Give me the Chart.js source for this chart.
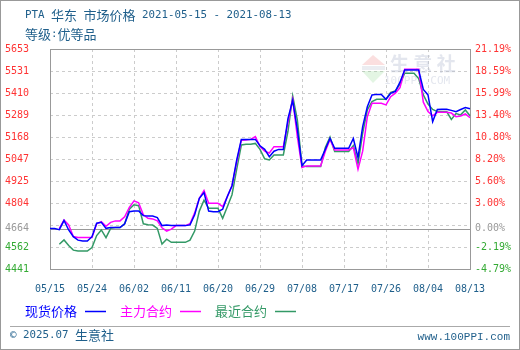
<!DOCTYPE html>
<html>
<head>
<meta charset="utf-8">
<script src="https://cdn.jsdelivr.net/npm/chart.js@4"></script>
<style>
html, body { margin: 0; padding: 0; background: #fff; }
canvas { display: block; }
</style>
</head>
<body>
<canvas id="chart" width="520" height="350"></canvas>
<script>
// ---- data ----
const START_DATE = '2021-05-15';
const DAY_COUNT = 91;
const BASE_PRICE = 4664;
const seriesNames = ['现货价格', '主力合约', '最近合约'];
const seriesColors = ['#0000ff', '#ff00ff', '#339966'];

const spotPrice = [
  4664, 4664, 4658, 4708, 4656, 4619, 4600, 4595, 4595, 4619,
  4693, 4698, 4665, 4669, 4669, 4669, 4690, 4757, 4761, 4761,
  4735, 4733, 4733, 4724, 4680, 4683, 4680, 4680, 4680, 4680,
  4684, 4740, 4830, 4862, 4760, 4757, 4757, 4770, 4840, 4900,
  5040, 5155, 5155, 5155, 5155, 5120, 5100, 5060, 5090, 5100,
  5100, 5270, 5370, 5210, 5010, 5042, 5042, 5042, 5042, 5100,
  5161, 5106, 5106, 5106, 5106, 5160, 5055, 5225, 5335, 5400,
  5403, 5403, 5376, 5409, 5420, 5470, 5537, 5537, 5537, 5537,
  5430, 5400, 5253, 5320, 5321, 5321, 5315, 5308, 5320, 5330,
  5324
];
const mainContract = [
  null, null, 4665, 4711, 4684, 4620, 4614, 4614, 4614, 4614,
  4690, 4702, 4676, 4698, 4706, 4706, 4729, 4780, 4816, 4805,
  4740, 4720, 4717, 4706, 4668, 4650, 4661, 4680, 4680, 4680,
  4690, 4750, 4830, 4873, 4803, 4803, 4803, 4785, 4840, 4900,
  5030, 5150, 5152, 5155, 5170, 5115, 5090, 5080, 5115, 5115,
  5115, 5250, 5375, 5170, 5000, 5009, 5009, 5009, 5009, 5090,
  5155, 5097, 5097, 5097, 5097, 5110, 4990, 5090, 5280, 5354,
  5354, 5354, 5345, 5390, 5410, 5440, 5541, 5541, 5541, 5541,
  5360, 5308, 5285, 5304, 5304, 5304, 5300, 5280, 5284, 5295,
  5275
];
const nearContract = [
  null, null, 4577, 4601, 4570, 4545, 4540, 4540, 4540, 4559,
  4625, 4656, 4614, 4665, 4669, 4669, 4690, 4770, 4795, 4790,
  4690, 4685, 4683, 4665, 4578, 4605, 4588, 4588, 4588, 4588,
  4600, 4650, 4760, 4820, 4775, 4775, 4775, 4720, 4784, 4850,
  4990, 5124, 5128, 5128, 5133, 5100, 5048, 5042, 5069, 5069,
  5069, 5200, 5395, 5262, 5010, 5005, 5005, 5005, 5005, 5110,
  5168, 5088, 5088, 5088, 5088, 5120, 5020, 5190, 5317, 5363,
  5376, 5376, 5376, 5414, 5422, 5460, 5519, 5519, 5519, 5490,
  5400, 5350, 5320, 5308, 5308, 5308, 5265, 5297, 5290, 5317,
  5285
];

const xTickLabels = ['05/15', '05/24', '06/02', '06/11', '06/20', '06/29', '07/08', '07/17', '07/26', '08/04', '08/13'];
const leftTickValues = [4441, 4562, 4664, 4804, 4925, 5047, 5168, 5289, 5410, 5531, 5653];
const rightTickLabels = ['-4.79%', '-2.19%', '0.00%', '3.00%', '5.60%', '8.20%', '10.80%', '13.40%', '15.99%', '18.59%', '21.19%'];
const extraGridValue = 4683; // dashed line just above the base line, no label

const titleText = 'PTA 华东 市场价格 2021-05-15 - 2021-08-13';
const subtitleText = '等级:优等品';
const footerLeft = '© 2025.07 生意社';
const footerRight = 'www.100PPI.com';

// ---- helpers ----
const TEXT_BLUE = '#1f5f8b';
const RED = '#ff3333', GRAY = '#999999', GREEN = '#33aa33';
const MONO = "'DejaVu Sans Mono', monospace";
const CJK = "'Noto Sans CJK SC', sans-serif";

function dayLabels() {
    var out = [];
    var d0 = new Date(START_DATE + 'T00:00:00Z');
    for (var i = 0; i < DAY_COUNT; i++) {
        var d = new Date(d0.getTime() + i * 86400000);
        var mm = String(d.getUTCMonth() + 1).padStart(2, '0');
        var dd = String(d.getUTCDate()).padStart(2, '0');
        out.push(mm + '/' + dd);
    }
    return out;
}
function tickColor(v) {
    if (v > BASE_PRICE) return RED;
    if (v < BASE_PRICE) return GREEN;
    return GRAY;
}
// latin and CJK glyphs get different fonts, like the bitmap font in the original
function drawMixed(ctx, text, x, y, latinFont, cjkFont, color) {
    ctx.fillStyle = color;
    ctx.textBaseline = 'middle';
    ctx.textAlign = 'left';
    for (const ch of text) {
        ctx.font = ch.charCodeAt(0) > 0x2e80 ? cjkFont : latinFont;
        ctx.fillText(ch, x, y);
        x += ctx.measureText(ch).width;
    }
    return x;
}

const yTicks = leftTickValues.concat([extraGridValue]).sort((a, b) => a - b);

const decorations = {
    id: 'decorations',
    beforeDatasetsDraw(chart) {
        const ctx = chart.ctx, a = chart.chartArea;
        const y = chart.scales.y;
        ctx.save();
        // watermark
        ctx.globalAlpha = 0.25;
        ctx.fillStyle = '#f08080';
        ctx.beginPath(); ctx.moveTo(373, 55); ctx.lineTo(362, 65); ctx.lineTo(385, 65); ctx.closePath(); ctx.fill();
        ctx.fillStyle = '#90d890';
        ctx.beginPath(); ctx.moveTo(362, 71); ctx.lineTo(385, 71); ctx.lineTo(373, 83); ctx.closePath(); ctx.fill();
        ctx.fillStyle = '#b0b8c8';
        ctx.fillRect(362, 66, 23, 4);
        ctx.globalAlpha = 0.4;
        ctx.fillStyle = '#b8c0d4';
        ctx.font = "bold 19px " + CJK;
        ctx.textBaseline = 'middle';
        ctx.fillText('生 意 社', 390, 64);
        ctx.font = "11px " + MONO;
        ctx.fillText('100PPI.COM', 384, 81);
        ctx.globalAlpha = 1;
        // base line
        const by = Math.round(y.getPixelForValue(BASE_PRICE)) + 0.5;
        ctx.strokeStyle = '#999';
        ctx.lineWidth = 1;
        ctx.beginPath(); ctx.moveTo(a.left, by); ctx.lineTo(a.right, by); ctx.stroke();
        // frame
        ctx.strokeStyle = '#999';
        ctx.strokeRect(Math.round(a.left) + 0.5, Math.round(a.top) + 0.5, Math.round(a.right - a.left), Math.round(a.bottom - a.top));
        ctx.restore();
    },
    afterDraw(chart) {
        const ctx = chart.ctx;
        ctx.save();
        drawMixed(ctx, titleText, 25, 15, "10.8px " + MONO, "13px " + CJK, TEXT_BLUE);
        drawMixed(ctx, subtitleText, 25, 34, "10.8px " + MONO, "13px " + CJK, TEXT_BLUE);
        // legend: text first, then a short line sample
        chart.data.datasets.forEach((ds, i) => {
            var x0 = 25 + i * 95;
            var x = drawMixed(ctx, ds.label, x0, 311, "10.8px " + MONO, "13px " + CJK, ds.borderColor);
            ctx.strokeStyle = ds.borderColor;
            ctx.lineWidth = 1.5;
            ctx.beginPath(); ctx.moveTo(x + 8, 311.5); ctx.lineTo(x + 29, 311.5); ctx.stroke();
        });
        // footer
        ctx.strokeStyle = '#aaa';
        ctx.lineWidth = 1;
        ctx.beginPath(); ctx.moveTo(10, 326.5); ctx.lineTo(510, 326.5); ctx.stroke();
        drawMixed(ctx, footerLeft, 10, 335, "10.8px " + MONO, "13px " + CJK, TEXT_BLUE);
        ctx.font = "11px 'Liberation Mono', monospace";
        ctx.fillStyle = TEXT_BLUE;
        ctx.textAlign = 'right';
        ctx.textBaseline = 'middle';
        ctx.fillText(footerRight, 510, 337);
        // outer border
        ctx.strokeStyle = '#999';
        ctx.strokeRect(0.5, 0.5, 519, 349);
        ctx.restore();
    }
};

const labels = dayLabels();
const seriesData = [spotPrice, mainContract, nearContract];

new Chart(document.getElementById('chart'), {
    type: 'line',
    data: {
        labels: labels,
        datasets: seriesData.map((d, i) => ({
            label: seriesNames[i],
            data: d,
            borderColor: seriesColors[i],
            backgroundColor: seriesColors[i],
            borderWidth: 1.5,
            pointRadius: 0,
            tension: 0,
            fill: false
        }))
    },
    options: {
        responsive: false,
        animation: false,
        devicePixelRatio: 1,
        layout: { padding: { top: 49, left: 5, right: 0, bottom: 0 } },
        plugins: { legend: { display: false }, tooltip: { enabled: false } },
        scales: {
            x: {
                type: 'category',
                offset: false,
                afterFit: s => { s.height = 81; },
                grid: { color: '#cccccc', drawTicks: false },
                border: { display: false, dash: [3, 3] },
                ticks: {
                    autoSkip: false,
                    maxRotation: 0,
                    padding: 14,
                    color: TEXT_BLUE,
                    font: { family: MONO, size: 10 },
                    callback: function (v, i) {
                        var l = labels[i];
                        return xTickLabels.indexOf(l) >= 0 ? l : null;
                    }
                }
            },
            y: {
                position: 'left',
                min: leftTickValues[0],
                max: leftTickValues[leftTickValues.length - 1],
                afterFit: s => { s.width = 45; },
                afterBuildTicks: s => { s.ticks = yTicks.map(v => ({ value: v })); },
                grid: {
                    drawTicks: false,
                    color: c => (c.tick && c.tick.value === BASE_PRICE) ? 'rgba(0,0,0,0)' : '#cccccc'
                },
                border: { display: false, dash: [3, 3] },
                ticks: {
                    crossAlign: 'far',
                    padding: 5,
                    font: { family: MONO, size: 10 },
                    color: c => tickColor(c.tick.value),
                    callback: v => {
                        var i = leftTickValues.indexOf(v);
                        return i >= 0 ? String(leftTickValues[i]) : '';
                    }
                }
            },
            y2: {
                position: 'right',
                min: leftTickValues[0],
                max: leftTickValues[leftTickValues.length - 1],
                afterFit: s => { s.width = 50; },
                afterBuildTicks: s => { s.ticks = leftTickValues.map(v => ({ value: v })); },
                grid: { display: false, drawTicks: false },
                border: { display: false },
                ticks: {
                    padding: 5,
                    font: { family: MONO, size: 10 },
                    color: c => tickColor(c.tick.value),
                    callback: v => rightTickLabels[leftTickValues.indexOf(v)]
                }
            }
        }
    },
    plugins: [decorations]
});
</script>
</body>
</html>
